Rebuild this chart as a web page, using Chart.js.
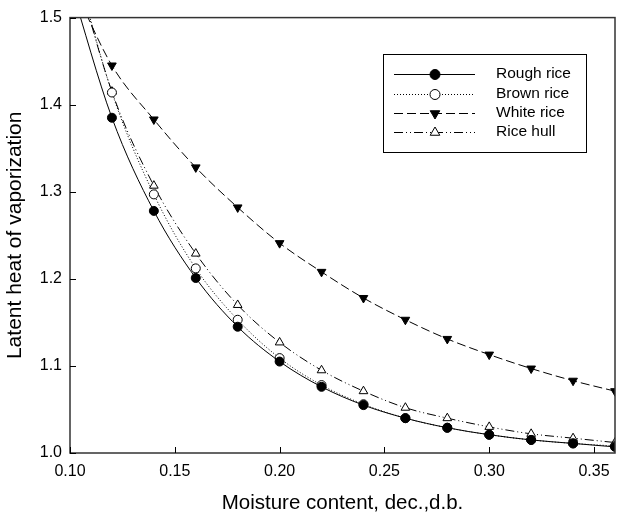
<!DOCTYPE html>
<html>
<head>
<meta charset="utf-8">
<script src="https://cdn.jsdelivr.net/npm/chart.js@4/dist/chart.umd.min.js"></script>
<style>
  html, body { margin: 0; padding: 0; background: #fff; }
  #wrap { width: 621px; height: 516px; }
</style>
</head>
<body>
<div id="wrap"><canvas id="chart" width="621" height="516"></canvas></div>
<script>
// moisture content (first point has no marker, it only carries the curve up out of the frame)
const moisture = [0.10, 0.12, 0.14, 0.16, 0.18, 0.20, 0.22, 0.24, 0.26, 0.28, 0.30, 0.32, 0.34, 0.36];

const roughRice = [1.540, 1.385, 1.278, 1.201, 1.145, 1.105, 1.076, 1.055, 1.040, 1.029, 1.021, 1.015, 1.011, 1.007];
const brownRice = [1.585, 1.414, 1.297, 1.212, 1.153, 1.109, 1.078, 1.056, 1.040, 1.029, 1.021, 1.015, 1.011, 1.008];
const whiteRice = [1.545, 1.445, 1.383, 1.328, 1.282, 1.241, 1.208, 1.178, 1.153, 1.131, 1.113, 1.097, 1.083, 1.071];
const riceHull  = [1.580, 1.415, 1.307, 1.229, 1.170, 1.127, 1.095, 1.071, 1.052, 1.040, 1.030, 1.022, 1.017, 1.012];

const xTicks = [0.10, 0.15, 0.20, 0.25, 0.30, 0.35];
const yTicks = [1.0, 1.1, 1.2, 1.3, 1.4, 1.5];

const FONT = '"Liberation Sans", Arial, sans-serif';

function pairs(vals) {
    return moisture.map((m, i) => ({ x: m, y: vals[i] }));
}

function makeSet(label, vals, dash, style, fill, radius, rotation) {
    return {
        label: label,
        data: pairs(vals),
        borderColor: '#000',
        borderWidth: 1,
        borderDash: dash,
        cubicInterpolationMode: 'monotone',
        pointStyle: style,
        pointRotation: rotation,
        pointBackgroundColor: fill,
        pointBorderColor: '#000',
        pointBorderWidth: 1,
        pointRadius: ctx => ctx.dataIndex === 0 ? 0 : radius,
        pointHoverRadius: ctx => ctx.dataIndex === 0 ? 0 : radius,
        markerSize: radius,
        fill: false
    };
}

const datasets = [
    makeSet('Rough rice', roughRice, [], 'circle', '#000', 4.5, 0),
    makeSet('Brown rice', brownRice, [1, 2], 'circle', '#fff', 4.5, 0),
    makeSet('White rice', whiteRice, [9, 4], 'triangle', '#000', 5, 180),
    makeSet('Rice hull', riceHull, [9, 3, 1, 3, 1, 3], 'triangle', '#fff', 5, 0)
];

// marker for the legend
function drawMarker(ctx, ds, x, y) {
    const r = ds.markerSize + 0.5;
    ctx.save();
    ctx.setLineDash([]);
    ctx.fillStyle = ds.pointBackgroundColor;
    ctx.strokeStyle = '#000';
    ctx.lineWidth = 1;
    ctx.beginPath();
    if (ds.pointStyle === 'circle') {
        ctx.arc(x, y, r, 0, Math.PI * 2);
    } else {
        const dir = ds.pointRotation === 180 ? -1 : 1;
        const h = r * 1.5;
        ctx.moveTo(x, y - dir * h * 2 / 3);
        ctx.lineTo(x + r * 0.87, y + dir * h / 3);
        ctx.lineTo(x - r * 0.87, y + dir * h / 3);
        ctx.closePath();
    }
    ctx.fill();
    ctx.stroke();
    ctx.restore();
}

const framePlugin = {
    id: 'frame',
    afterDraw(chart) {
        const ctx = chart.ctx;
        const a = chart.chartArea;
        ctx.save();
        ctx.strokeStyle = '#333';
        ctx.lineWidth = 1.5;
        ctx.setLineDash([]);
        ctx.strokeRect(a.left, a.top, a.right - a.left, a.bottom - a.top);

        // inward ticks
        ctx.lineWidth = 1;
        ctx.strokeStyle = '#000';
        chart.scales.x.ticks.forEach(t => {
            const px = Math.round(chart.scales.x.getPixelForValue(t.value)) + 0.5;
            ctx.beginPath();
            ctx.moveTo(px, a.bottom);
            ctx.lineTo(px, a.bottom - 6);
            ctx.stroke();
        });
        chart.scales.y.ticks.forEach(t => {
            const py = Math.round(chart.scales.y.getPixelForValue(t.value)) + 0.5;
            ctx.beginPath();
            ctx.moveTo(a.left, py);
            ctx.lineTo(a.left + 6, py);
            ctx.stroke();
        });

        // legend box
        const bx = 383, by = 54, bw = 203, bh = 98;
        ctx.fillStyle = '#fff';
        ctx.fillRect(bx, by, bw, bh);
        ctx.strokeStyle = '#000';
        ctx.strokeRect(bx + 0.5, by + 0.5, bw, bh);
        const rows = [74, 94, 113, 132];
        ctx.font = '15.5px ' + FONT;
        ctx.textBaseline = 'middle';
        chart.data.datasets.forEach((ds, i) => {
            const y = rows[i] + 0.5;
            ctx.save();
            ctx.strokeStyle = '#000';
            ctx.lineWidth = 1;
            ctx.setLineDash(ds.borderDash);
            ctx.beginPath();
            ctx.moveTo(394, y);
            ctx.lineTo(475, y);
            ctx.stroke();
            ctx.restore();
            drawMarker(ctx, ds, 435, y);
            ctx.fillStyle = '#000';
            ctx.fillText(ds.label, 496, rows[i]);
        });
        ctx.restore();
    }
};

new Chart(document.getElementById('chart'), {
    type: 'line',
    data: { datasets: datasets },
    options: {
        responsive: false,
        animation: false,
        events: [],
        layout: { padding: { top: 15, right: 3, left: 0, bottom: 0 } },
        plugins: {
            legend: { display: false },
            tooltip: { enabled: false }
        },
        scales: {
            x: {
                type: 'linear',
                min: 0.10,
                max: 0.36,
                afterFit: s => { s.height = 63; },
                afterBuildTicks: s => { s.ticks = xTicks.map(v => ({ value: v })); },
                grid: { display: false, drawTicks: false },
                border: { display: false },
                ticks: {
                    padding: 9,
                    color: '#000',
                    font: { family: FONT, size: 16 },
                    maxRotation: 0,
                    callback: v => v.toFixed(2)
                },
                title: {
                    display: true,
                    text: 'Moisture content, dec.,d.b.',
                    color: '#000',
                    font: { family: FONT, size: 20.5 },
                    padding: { top: 0, bottom: 0 }
                }
            },
            y: {
                type: 'linear',
                min: 1.0,
                max: 1.5,
                afterFit: s => { s.width = 70; },
                afterBuildTicks: s => { s.ticks = yTicks.map(v => ({ value: v })); },
                grid: { display: false, drawTicks: false },
                border: { display: false },
                ticks: {
                    padding: 8,
                    color: '#000',
                    font: { family: FONT, size: 16 },
                    callback: v => v.toFixed(1)
                },
                title: {
                    display: true,
                    text: 'Latent heat of vaporization',
                    color: '#000',
                    font: { family: FONT, size: 21 },
                    padding: { top: 3, bottom: 0 }
                }
            }
        }
    },
    plugins: [framePlugin]
});
</script>
</body>
</html>
